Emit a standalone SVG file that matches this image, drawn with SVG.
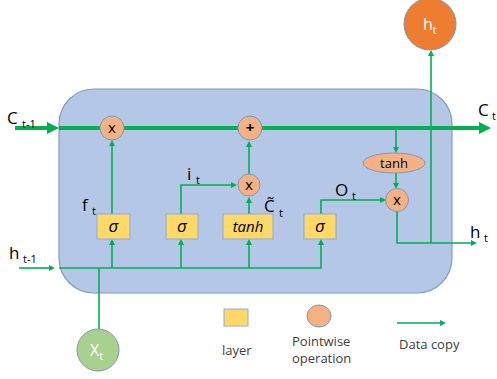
<svg xmlns="http://www.w3.org/2000/svg" width="497" height="379" viewBox="0 0 497 379">
<style>
.ln{fill:none;stroke:#00b050;stroke-width:1.6}
.thick{fill:none;stroke:#00b050;stroke-width:4}
.op{fill:#f4b183;stroke:#8497b0;stroke-width:1}
.lay{fill:#ffd966;stroke:#8faadc;stroke-width:1}
.lbl{font-family:"Open Sans","Liberation Sans",sans-serif;fill:#000}
.big{font-size:17px}
.sub{font-size:11px}
.in{font-family:"Open Sans","Liberation Sans",sans-serif;fill:#000;text-anchor:middle}
.leg{font-family:"Open Sans","Liberation Sans",sans-serif;font-size:13px;fill:#404040}
</style>
<defs>
<marker id="a" viewBox="0 0 6 6" markerWidth="6" markerHeight="6" refX="0" refY="3" markerUnits="userSpaceOnUse" orient="auto"><path d="M0,0 L6,3 L0,6 z" fill="#00b050"/></marker>
<marker id="A" viewBox="0 0 12 12" markerWidth="12" markerHeight="12" refX="0" refY="6" markerUnits="userSpaceOnUse" orient="auto"><path d="M0,0 L12,6 L0,12 z" fill="#00b050"/></marker>
</defs>
<g id="cell"><rect x="59" y="89" width="393" height="204" rx="35" fill="#b4c7e7" stroke="#7f9cc8" stroke-width="1.2"/></g>
<g id="connectors">
<path class="thick" d="M15,128 H47" marker-end="url(#A)"/>
<path class="thick" d="M59,128 H479" marker-end="url(#A)"/>
<path class="ln" d="M19,268 H49" marker-end="url(#a)"/>
<path class="ln" d="M59,268 H321 V245" marker-end="url(#a)"/>
<path class="ln" d="M112,268 V245" marker-end="url(#a)"/>
<path class="ln" d="M181,268 V245" marker-end="url(#a)"/>
<path class="ln" d="M249,268 V245" marker-end="url(#a)"/>
<path class="ln" d="M99,329 V268"/>
<path class="ln" d="M112,214 V146" marker-end="url(#a)"/>
<path class="ln" d="M181,214 V185 H231" marker-end="url(#a)"/>
<path class="ln" d="M249,214 V203" marker-end="url(#a)"/>
<path class="ln" d="M249,174 V147" marker-end="url(#a)"/>
<path class="ln" d="M321,214 V200 H380" marker-end="url(#a)"/>
<path class="ln" d="M396,130 V147" marker-end="url(#a)"/>
<path class="ln" d="M396,173 V183" marker-end="url(#a)"/>
<path class="ln" d="M397,211 V243 H471" marker-end="url(#a)"/>
<path class="ln" d="M431,243 V56" marker-end="url(#a)"/>
<path class="ln" d="M397,323 H440" marker-end="url(#a)"/>
</g>
<g id="mul-forget"><circle class="op" cx="112" cy="128" r="12"/><text class="in" x="112" y="133" font-size="15">x</text></g>
<g id="add"><circle class="op" cx="250" cy="128" r="12"/><text class="in" x="250" y="133" font-size="15" font-weight="bold">+</text></g>
<g id="mul-input"><circle class="op" cx="249" cy="185" r="11"/><text class="in" x="249" y="190" font-size="15">x</text></g>
<g id="mul-output"><circle class="op" cx="397" cy="200" r="11.5"/><text class="in" x="397" y="205" font-size="15">x</text></g>
<g id="tanh-op"><ellipse class="op" cx="394" cy="163" rx="31" ry="10"/><text class="in" x="394" y="168" font-size="13">tanh</text></g>
<g id="sigma-f"><rect class="lay" x="97" y="214" width="33" height="25"/><text class="in" x="113.5" y="232" font-size="17" font-style="italic">σ</text></g>
<g id="sigma-i"><rect class="lay" x="166" y="214" width="32" height="25"/><text class="in" x="182" y="232" font-size="17" font-style="italic">σ</text></g>
<g id="tanh-layer"><rect class="lay" x="223" y="214" width="50" height="25"/><text class="in" x="248" y="232" font-size="15" font-style="italic">tanh</text></g>
<g id="sigma-o"><rect class="lay" x="304" y="214" width="32" height="25"/><text class="in" x="320" y="232" font-size="17" font-style="italic">σ</text></g>
<g id="h-out"><circle cx="430" cy="24" r="26" fill="#ed7d31" stroke="#8497b0" stroke-width="1"/><text x="423" y="30" font-family="Open Sans, Liberation Sans, sans-serif" font-size="16" fill="#fff">h<tspan font-size="11" dy="4">t</tspan></text></g>
<g id="x-in"><circle cx="98" cy="350" r="21" fill="#a9d18e" stroke="#8497b0" stroke-width="1"/><text x="90" y="356" font-family="Open Sans, Liberation Sans, sans-serif" font-size="16" fill="#fff">X<tspan font-size="11" dy="4">t</tspan></text></g>
<g id="labels">
<text class="lbl big" x="7" y="124">C</text><text class="lbl sub" x="22" y="128">t-1</text>
<text class="lbl big" x="478" y="116">C</text><text class="lbl sub" x="492" y="120">t</text>
<text class="lbl big" x="9" y="259">h</text><text class="lbl sub" x="23" y="263">t-1</text>
<text class="lbl big" x="82" y="211">f</text><text class="lbl sub" x="92" y="215">t</text>
<text class="lbl big" x="187" y="180">i</text><text class="lbl sub" x="196" y="184">t</text>
<text class="lbl big" x="264" y="212">C̃</text><text class="lbl sub" x="279" y="217">t</text>
<text class="lbl big" x="335" y="196">O</text><text class="lbl sub" x="352" y="200">t</text>
<text class="lbl big" x="470" y="238">h</text><text class="lbl sub" x="484" y="242">t</text>
</g>
<g id="legend">
<rect class="lay" x="224" y="309" width="24" height="17"/>
<text class="leg" x="222" y="355">layer</text>
<ellipse class="op" cx="319" cy="316" rx="12" ry="11"/>
<text class="leg" x="292" y="346">Pointwise</text>
<text class="leg" x="292" y="363">operation</text>
<text class="leg" x="399" y="349">Data copy</text>
</g>
</svg>
